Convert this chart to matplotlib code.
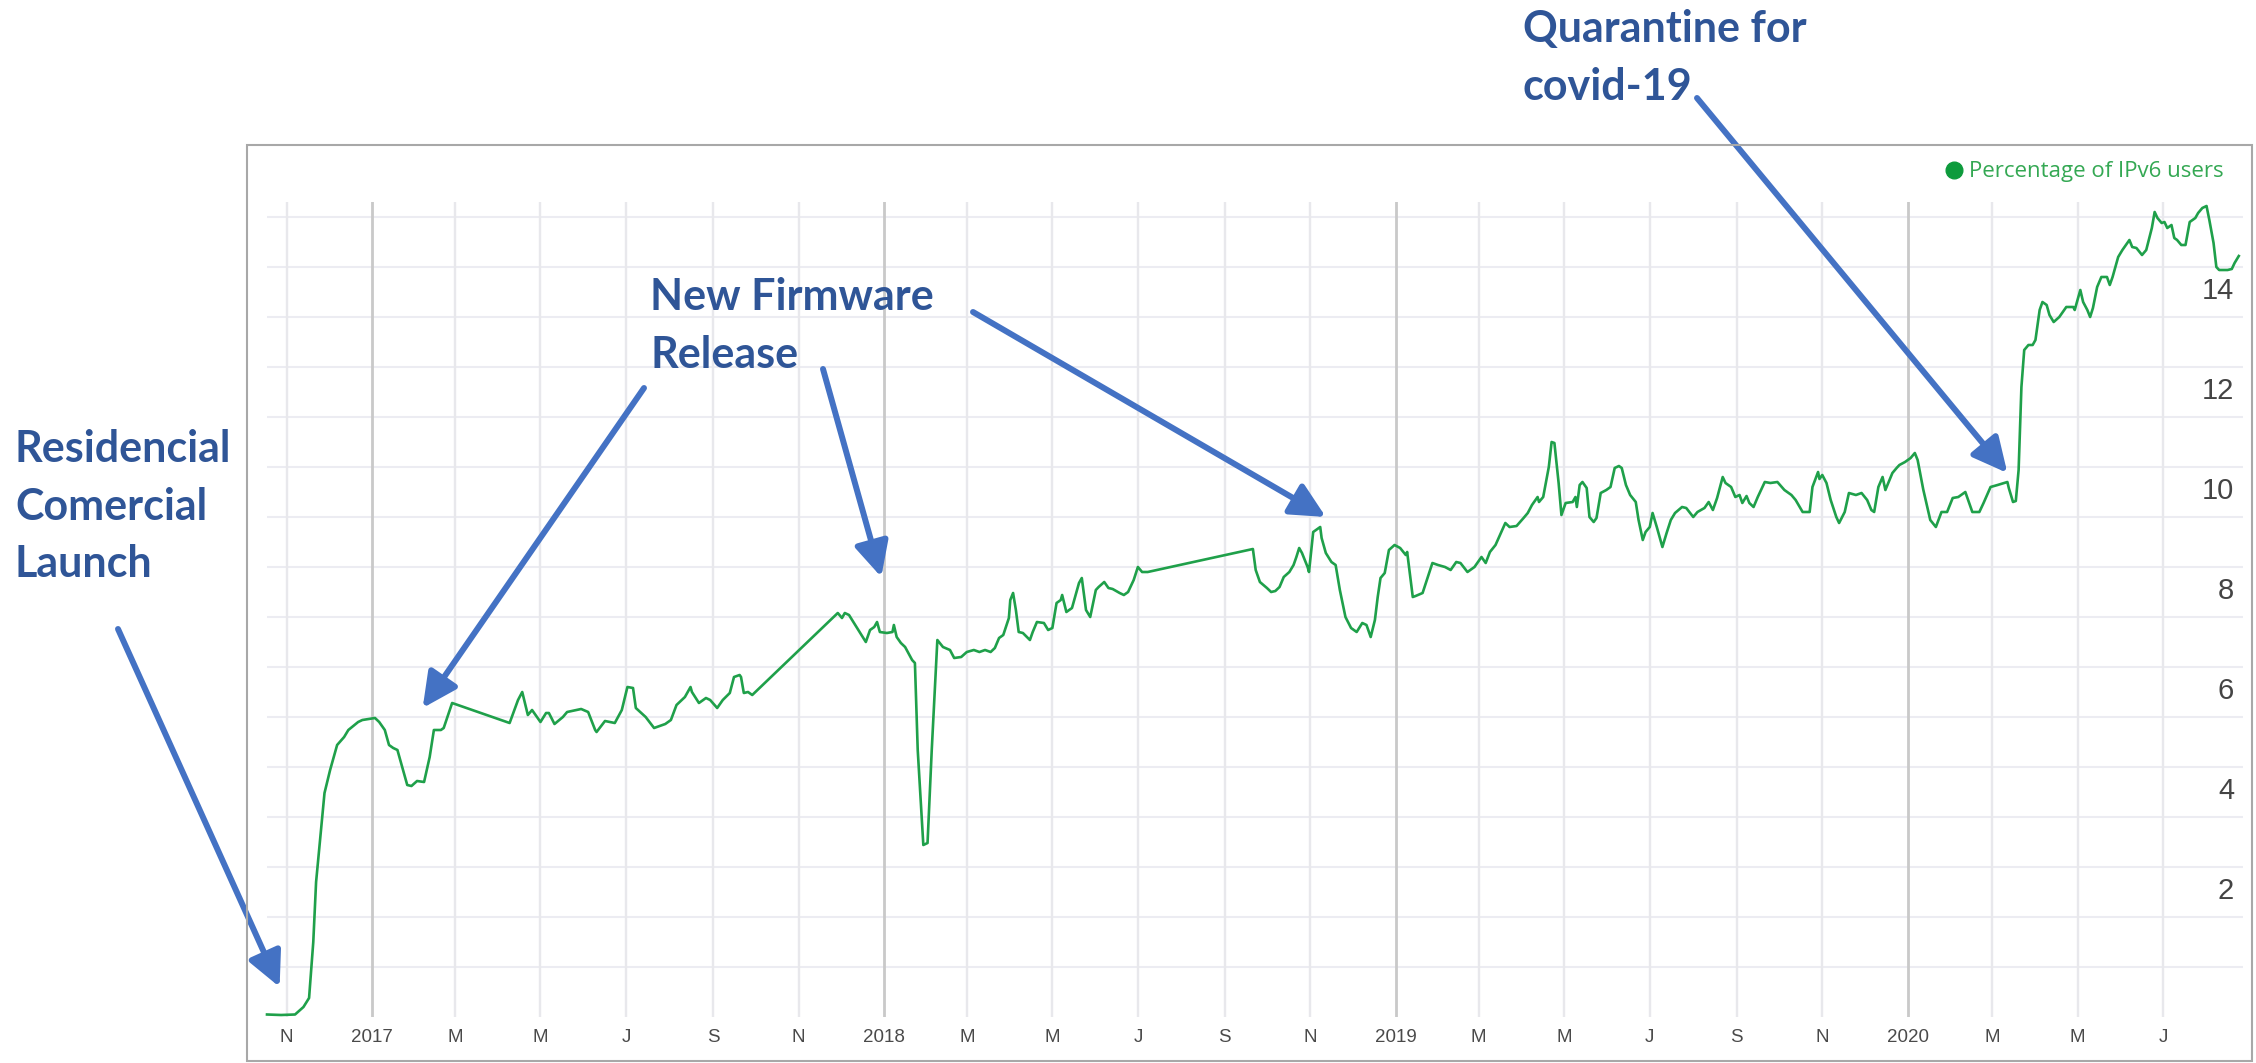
import matplotlib
matplotlib.use('Agg')
import matplotlib.pyplot as plt
import pandas as pd
from matplotlib.lines import Line2D
from matplotlib.patches import Rectangle
from matplotlib.transforms import blended_transform_factory

# ---------------- data ----------------
start_date = '2016-11-01'
series_name = 'Percentage of IPv6 users'

days_2016_2017 = [-14, -4, 6, 12, 16, 19, 21, 24, 27, 31,
                  36, 41, 44, 51, 54, 63, 66, 70, 73, 76,
                  79, 86, 89, 93, 98, 102, 105, 110, 112, 118,
                  159, 165, 168, 172, 175, 181, 185, 187, 191, 197,
                  200, 210, 215, 220, 221, 227, 234, 239, 243, 247,
                  249, 256, 262, 270, 274, 278, 284, 288, 289, 294,
                  299, 302, 307, 311, 316, 319, 323, 324, 326, 329,
                  332]
pct_2016_2017 = [0.05, 0.04, 0.05, 0.2, 0.38, 1.5, 2.7, 3.6, 4.48, 4.94,
                 5.44, 5.6, 5.74, 5.9, 5.94, 5.98, 5.9, 5.74, 5.44, 5.38,
                 5.34, 4.64, 4.62, 4.72, 4.7, 5.2, 5.74, 5.74, 5.78, 6.28,
                 5.88, 6.34, 6.5, 6.04, 6.14, 5.9, 6.08, 6.08, 5.86, 6.0,
                 6.1, 6.16, 6.1, 5.74, 5.7, 5.92, 5.88, 6.14, 6.6, 6.58,
                 6.18, 6.0, 5.78, 5.86, 5.94, 6.24, 6.4, 6.6, 6.5, 6.28,
                 6.38, 6.34, 6.18, 6.34, 6.48, 6.8, 6.84, 6.8, 6.48, 6.5,
                 6.44]

days_2017_2018 = [393, 396, 398, 401, 413, 416, 419, 421, 423, 428,
                  432, 433, 435, 438, 441, 446, 448, 450, 454, 457,
                  460, 464, 468, 473, 476, 481, 485, 490, 494, 498,
                  502, 505, 508, 511, 515, 516, 518, 520, 522, 525,
                  530, 532, 535, 540, 543, 546, 549, 552, 553, 556,
                  560, 565, 567, 570, 573, 577, 579, 583, 586, 589,
                  594, 597, 600, 604, 607, 610, 614]
pct_2017_2018 = [8.08, 7.98, 8.08, 8.04, 7.5, 7.74, 7.8, 7.9, 7.7, 7.68,
                 7.7, 7.84, 7.6, 7.48, 7.4, 7.14, 7.08, 5.34, 3.44, 3.48,
                 5.34, 7.54, 7.4, 7.34, 7.18, 7.2, 7.3, 7.34, 7.3, 7.34,
                 7.3, 7.38, 7.58, 7.64, 7.98, 8.34, 8.48, 8.14, 7.7, 7.68,
                 7.54, 7.7, 7.9, 7.88, 7.74, 7.78, 8.28, 8.34, 8.44, 8.1,
                 8.18, 8.68, 8.78, 8.14, 8.0, 8.54, 8.6, 8.7, 8.58, 8.56,
                 8.48, 8.44, 8.5, 8.74, 9.0, 8.9, 8.9]

days_2018_2019 = [689, 691, 694, 699, 702, 705, 708, 711, 715, 718,
                  720, 722, 724, 728, 729, 732, 736, 737, 738, 741,
                  745, 748, 751, 755, 759, 763, 767, 770, 773, 776,
                  778, 780, 783, 786, 790, 794, 798, 799, 803, 805,
                  810, 817, 821, 826, 830, 834, 837, 842, 847, 852,
                  855, 858, 862]
pct_2018_2019 = [9.36, 8.94, 8.7, 8.58, 8.5, 8.52, 8.6, 8.8, 8.9, 9.04,
                 9.2, 9.38, 9.28, 9.0, 8.9, 9.7, 9.78, 9.8, 9.58, 9.28,
                 9.1, 9.04, 8.54, 8.0, 7.78, 7.7, 7.88, 7.84, 7.6, 7.94,
                 8.4, 8.78, 8.88, 9.34, 9.44, 9.38, 9.24, 9.3, 8.4, 8.42,
                 8.48, 9.08, 9.04, 9.0, 8.94, 9.1, 9.08, 8.9, 9.0, 9.2,
                 9.08, 9.3, 9.44]

days_2019_2020 = [869, 872, 877, 882, 885, 888, 892, 893, 896, 900,
                  902, 904, 907, 909, 912, 917, 919, 920, 922, 924,
                  927, 929, 932, 934, 937, 941, 944, 947, 950, 952,
                  955, 958, 962, 964, 967, 969, 972, 974, 977, 981,
                  984, 987, 990, 995, 998, 1003, 1006, 1011, 1014, 1017,
                  1020, 1024, 1026, 1030, 1033, 1036, 1038, 1041, 1043, 1046,
                  1049, 1054, 1058, 1063, 1068, 1073, 1076, 1081, 1086, 1088,
                  1092, 1093, 1095, 1098, 1101, 1105, 1107, 1111, 1114, 1119,
                  1123, 1127, 1130, 1132, 1135, 1138, 1140, 1145, 1148, 1150,
                  1154, 1158, 1161, 1163, 1167, 1172, 1176, 1180, 1184, 1188,
                  1192, 1197, 1202, 1207, 1210, 1215, 1220, 1227, 1228, 1231,
                  1233]
pct_2019_2020 = [9.88, 9.8, 9.82, 9.98, 10.08, 10.24, 10.4, 10.3, 10.4, 11.0,
                 11.5, 11.48, 10.68, 10.04, 10.28, 10.3, 10.4, 10.2, 10.64, 10.7,
                 10.58, 10.0, 9.9, 9.98, 10.48, 10.54, 10.6, 10.98, 11.02, 10.98,
                 10.64, 10.44, 10.3, 9.94, 9.54, 9.7, 9.8, 10.08, 9.8, 9.4,
                 9.68, 9.94, 10.08, 10.2, 10.18, 10.0, 10.1, 10.18, 10.3, 10.14,
                 10.38, 10.8, 10.68, 10.6, 10.4, 10.44, 10.28, 10.42, 10.28, 10.2,
                 10.4, 10.7, 10.68, 10.7, 10.54, 10.44, 10.34, 10.1, 10.1, 10.6,
                 10.9, 10.76, 10.84, 10.68, 10.34, 10.0, 9.88, 10.1, 10.48, 10.44,
                 10.48, 10.34, 10.14, 10.1, 10.6, 10.8, 10.54, 10.88, 10.98, 11.04,
                 11.1, 11.18, 11.28, 11.14, 10.55, 9.94, 9.8, 10.1, 10.1, 10.38,
                 10.4, 10.5, 10.1, 10.1, 10.28, 10.6, 10.64, 10.7, 10.58, 10.3,
                 10.32]

days_2020 = [1235, 1237, 1239, 1242, 1245, 1247, 1250, 1252, 1255, 1257,
             1260, 1264, 1269, 1274, 1275, 1277, 1279, 1281, 1284, 1286,
             1288, 1291, 1294, 1298, 1300, 1302, 1306, 1309, 1313, 1314,
             1316, 1319, 1323, 1326, 1330, 1332, 1334, 1337, 1339, 1341,
             1344, 1346, 1348, 1351, 1354, 1357, 1361, 1363, 1366, 1369,
             1371, 1374, 1376, 1378, 1384, 1387, 1389, 1392]
pct_2020 = [10.94, 12.6, 13.34, 13.44, 13.44, 13.54, 14.14, 14.3, 14.24, 14.04,
            13.9, 14.0, 14.2, 14.2, 14.14, 14.34, 14.54, 14.3, 14.14, 14.0,
            14.18, 14.6, 14.8, 14.8, 14.64, 14.8, 15.2, 15.34, 15.5, 15.54,
            15.4, 15.38, 15.24, 15.34, 15.78, 16.1, 15.98, 15.88, 15.9, 15.78,
            15.84, 15.58, 15.54, 15.44, 15.44, 15.9, 15.98, 16.08, 16.18, 16.22,
            15.94, 15.48, 15.0, 14.94, 14.94, 14.96, 15.08, 15.22]

x_tick_labels = ['N', '2017', 'M', 'M', 'J', 'S', 'N', '2018', 'M', 'M', 'J', 'S',
                 'N', '2019', 'M', 'M', 'J', 'S', 'N', '2020', 'M', 'M', 'J']
y_tick_values = [2, 4, 6, 8, 10, 12, 14]

ann_lines = [['Residencial', 'Comercial', 'Launch'],
             ['New Firmware', 'Release'],
             ['Quarantine for', 'covid-19']]
# arrow targets (days since start, percentage)
arrow_tip_days = [-5, 97, 424, 741, 1227]
arrow_tip_pct = [0.6, 6.18, 8.8, 10.0, 10.88]

# ---------------- build ----------------
days = days_2016_2017 + days_2017_2018 + days_2018_2019 + days_2019_2020 + days_2020
pct = pct_2016_2017 + pct_2017_2018 + pct_2018_2019 + pct_2019_2020 + pct_2020
t0 = pd.Timestamp(start_date)
dates = t0 + pd.to_timedelta(days, unit='D')
tick_dates = pd.date_range(start_date, periods=len(x_tick_labels), freq='2MS')

W, H, DPI = 2256, 1063, 100
fig = plt.figure(figsize=(W / DPI, H / DPI), dpi=DPI)
fig.patch.set_facecolor('white')

def fx(px):
    return px / W

def fy(py):
    return 1 - py / H

ax = fig.add_axes([fx(267), fy(1017), fx(2243) - fx(267), fy(202) - fy(1017)])
ax.set_facecolor('none')
for s in ax.spines.values():
    s.set_visible(False)

ax.set_ylim(0, 16.3)
ax.set_xlim(dates.min(), dates.max() + pd.Timedelta(days=3))

for v in range(1, 17):
    ax.axhline(v, color='#ececf2', lw=1.5, zorder=0)
for d, lab in zip(tick_dates, x_tick_labels):
    is_year = lab.isdigit()
    ax.axvline(d, color='#c9c9c9' if is_year else '#e8e8ec',
               lw=2.0 if is_year else 1.7, zorder=0.5)

ax.plot(dates, pct, color='#1fa04a', lw=1.9, zorder=3, clip_on=False,
        solid_joinstyle='round')

ax.set_xticks(tick_dates)
ax.set_xticklabels(x_tick_labels, fontsize=13.5, color='#4a4a4a',
                   family='Liberation Sans')
ax.tick_params(axis='x', length=0, pad=9)
ax.set_yticks([])

ytr = blended_transform_factory(ax.transAxes, ax.transData)
for v in y_tick_values:
    ax.text(0.9955, v + 0.52, str(v), transform=ytr, ha='right', va='center',
            fontsize=21, color='#444444', family='Liberation Sans', zorder=4)

# legend
handle = Line2D([], [], marker='o', ls='none', color='#0d9b3c', markersize=12)
fig.legend([handle], [series_name], loc='center right',
           bbox_to_anchor=(fx(2224), fy(172)), frameon=False, borderpad=0,
           borderaxespad=0, handletextpad=0.2, handlelength=1.0,
           prop={'family': 'Open Sans', 'size': 16}, labelcolor='#34a853')

# chart frame
fig.add_artist(Rectangle((fx(247), fy(1061)), fx(2252) - fx(247),
                         fy(145) - fy(1061), fill=False, edgecolor='#a8a8a8',
                         lw=1.5, transform=fig.transFigure))

# annotations
txt_color = '#2f5597'
arr_color = '#4472c4'
txt_kw = dict(family='Lato', weight='bold', fontsize=31, color=txt_color,
              va='baseline', ha='left')
ann_pos = [(15, [462, 520, 577]), (650, [310, 368]), (1523, [42, 100])]
for lines, (x0, ys) in zip(ann_lines, ann_pos):
    for line, yb in zip(lines, ys):
        fig.text(fx(x0), fy(yb), line, **txt_kw)

arrow_starts = [(118, 629), (644, 388), (823, 369), (973, 312), (1697, 98)]
for dd, pv, (sx, sy) in zip(arrow_tip_days, arrow_tip_pct, arrow_starts):
    ax.annotate('', xy=(t0 + pd.Timedelta(days=dd), pv), xycoords='data',
                xytext=(fx(sx), fy(sy)), textcoords='figure fraction',
                arrowprops=dict(arrowstyle='-|>,head_length=1.05,head_width=0.52',
                                mutation_scale=20, color=arr_color, lw=4.3,
                                shrinkA=0, shrinkB=0),
                annotation_clip=False, zorder=6)

fig.savefig('out.png', dpi=DPI)
